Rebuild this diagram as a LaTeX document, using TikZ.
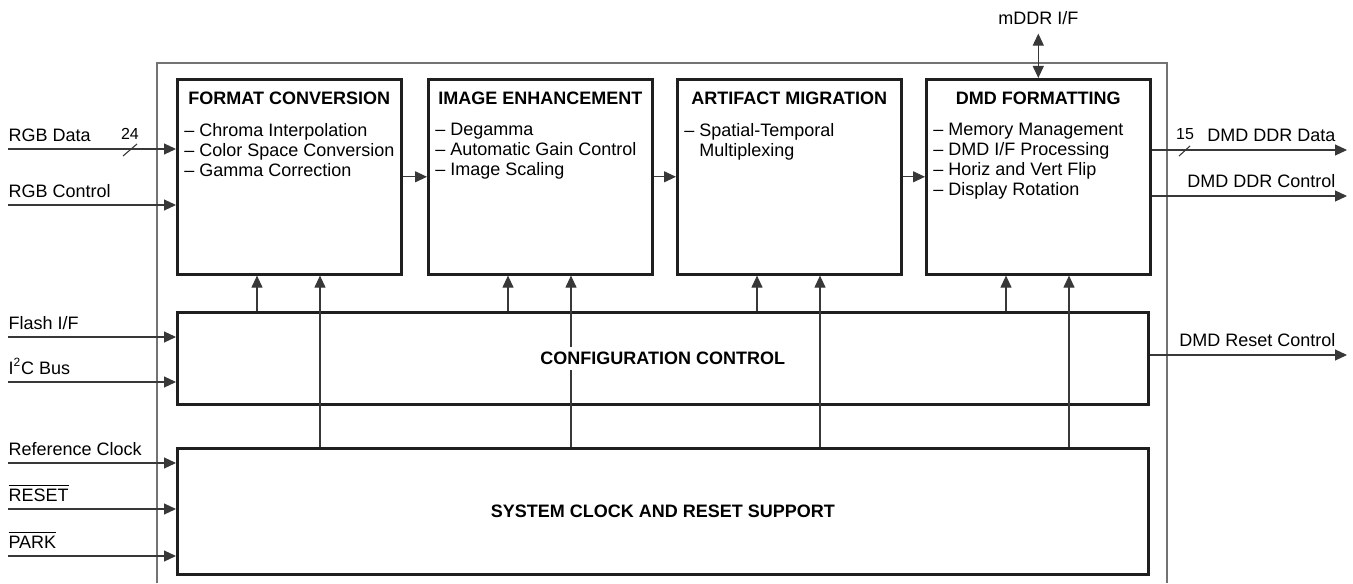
\documentclass[tikz,border=0pt]{standalone}
\usepackage{fontspec}
\setmainfont{Liberation Sans}
\usetikzlibrary{arrows.meta,positioning,calc}

\tikzset{
	blk/.style={draw=black!88, line width=1.3pt, fill=white, anchor=north west, inner sep=0pt, minimum width=112pt, minimum height=97.5pt},
	sig/.style={draw=black!78, line width=0.55pt, ->},
	ttl/.style={font=\fontsize{9}{10}\selectfont\bfseries, inner sep=0pt},
	items/.style={align=left, inner sep=0pt, anchor=north west},
	lbl/.style={inner sep=0pt, anchor=base west, yshift=4pt},
	rlbl/.style={inner sep=0pt, anchor=base east, xshift=-5.5pt, yshift=4.5pt},
	wid/.style={inner sep=0pt, anchor=base, font=\fontsize{8}{9}\selectfont},
}

\begin{document}
\begin{tikzpicture}[x=0.5pt, y=-0.5pt, font=\fontsize{9}{10}\selectfont, >={Triangle[length=6pt,width=5.5pt]}]
	\useasboundingbox (0,0) rectangle (1353,583);
	\draw [black!55, line width=0.7pt] (157,583)--(157,63)--(1167,63)--(1167,583);

	%% processing chain
	\node [blk] (fc) at (176,78) {};
	\node [blk] (ie) at (427,78) {};
	\node [blk] (am) at (676,78) {};
	\node [blk] (dmd) at (925,78) {};
	\node [ttl, below=7pt of fc.north] (fct) {FORMAT CONVERSION};
	\node [ttl, below=7pt of ie.north] (iet) {IMAGE ENHANCEMENT};
	\node [ttl, below=7pt of am.north] (amt) {ARTIFACT MIGRATION};
	\node [ttl, below=7pt of dmd.north] (dmdt) {DMD FORMATTING};
	\node [items, below right=22.5pt and 4pt of fc.north west] (fcl) {– Chroma Interpolation\\– Color Space Conversion\\– Gamma Correction};
	\node [items, below right=22.5pt and 4pt of ie.north west] (iel) {– Degamma\\– Automatic Gain Control\\– Image Scaling};
	\node [items, below right=22.5pt and 4pt of am.north west] (aml) {– Spatial-Temporal\\\phantom{– }Multiplexing};
	\node [items, below right=22.5pt and 4pt of dmd.north west] (dmdl) {– Memory Management\\– DMD I/F Processing\\– Horiz and Vert Flip\\– Display Rotation};
	\draw [sig] (fc)--(ie);
	\draw [sig] (ie)--(am);
	\draw [sig] (am)--(dmd);

	%% control and clock
	\node [blk, minimum width=485.5pt, minimum height=46pt] (cfg) at (176,311) {};
	\node [blk, minimum width=485.5pt, minimum height=63pt] (sys) at (176,447) {};
	\foreach \b in {fc,ie,am,dmd} {
		\coordinate (\b1) at ($(\b.south west)+(81,0)$);
		\coordinate (\b2) at ($(\b.south west)+(144,0)$);
		\draw [sig] (\b1 |- cfg.north)--(\b1);
		\draw [sig] (\b2 |- sys.north)--(\b2);
	}
	\node [ttl, fill=white, inner xsep=1pt, inner ysep=2.5pt] (cfgt) at (cfg.center) {CONFIGURATION CONTROL};
	\node [ttl] (syst) at (sys.center) {SYSTEM CLOCK AND RESET SUPPORT};

	%% inputs
	\coordinate (rgbd) at (8,149);
	\coordinate (rgbc) at (8,205);
	\coordinate (flash) at (8,337);
	\coordinate (iic) at (8,382);
	\coordinate (refclk) at (8,463);
	\coordinate (rst) at (8,509);
	\coordinate (park) at (8,556);
	\draw [sig] (rgbd) node[lbl]{RGB Data}--(rgbd -| fc.west);
	\draw [sig] (rgbc) node[lbl]{RGB Control}--(rgbc -| fc.west);
	\draw [sig] (flash) node[lbl]{Flash I/F}--(flash -| cfg.west);
	\draw [sig] (iic) node[lbl]{I\textsuperscript{2}C Bus}--(iic -| cfg.west);
	\draw [sig] (refclk) node[lbl]{Reference Clock}--(refclk -| sys.west);
	\draw [sig] (rst) node[lbl]{$\overline{\mbox{RESET}}$}--(rst -| sys.west);
	\draw [sig] (park) node[lbl]{$\overline{\mbox{PARK}}$}--(park -| sys.west);
	\draw [black!78, line width=0.55pt] (123,156)--(137,144);
	\node [wid] (w24) at (130,140) {24};

	%% outputs
	\coordinate (ddrd) at (1347,150);
	\coordinate (ddrc) at (1347,196);
	\coordinate (dmdrst) at (1347,355);
	\draw [sig] (ddrd -| dmd.east)--(ddrd) node[rlbl]{DMD DDR Data};
	\draw [sig] (ddrc -| dmd.east)--(ddrc) node[rlbl]{DMD DDR Control};
	\draw [sig] (dmdrst -| cfg.east)--(dmdrst) node[rlbl]{DMD Reset Control};
	\draw [black!78, line width=0.55pt] (1179,156)--(1190,146);
	\node [wid] (w15) at (1185,140) {15};
	\node [inner sep=0pt, anchor=base] (mddr) at (dmd.north |- 0,25) {mDDR I/F};
	\draw [sig, <->] ([yshift=-4pt]mddr.south)--(dmd.north);
\end{tikzpicture}
\end{document}
